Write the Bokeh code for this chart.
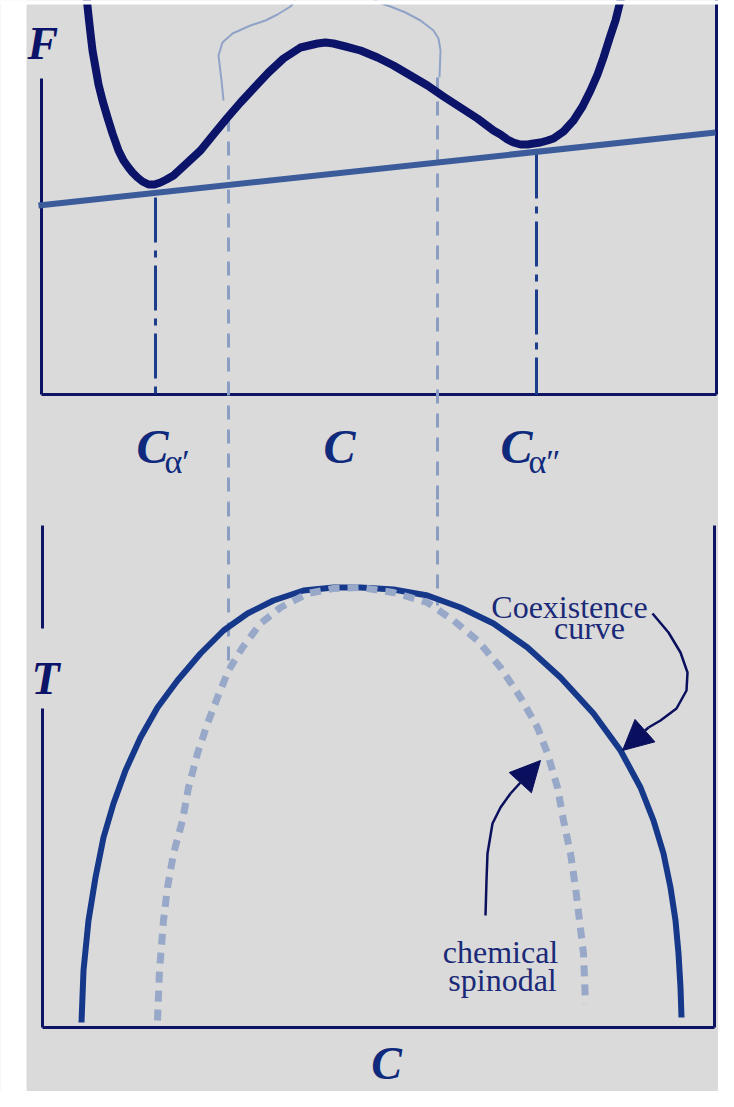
from bokeh.plotting import figure
from bokeh.models import Range1d, Arrow, NormalHead
from bokeh.core.properties import value
from bokeh.embed import file_html
from bokeh.resources import INLINE

# ---------------- data (composition c, free energy F, temperature T; arbitrary units) ----
# free-energy curve F(c)
f_c = [44, 46, 48, 50, 53, 56, 60, 65, 70, 76, 81, 86, 90, 95, 100, 106, 112, 118, 124,
       131, 144, 158, 171, 185, 198, 211, 226, 241, 258, 275, 283, 291, 303, 318, 335,
       351, 368, 385, 401, 418, 435, 451, 458, 465, 471, 478, 485, 491, 498, 505, 511,
       521, 531, 540, 548, 555, 561, 567, 573, 579]
f_val = [398, 379, 361, 344, 327, 310, 294, 277, 261, 244, 234, 227, 222, 217, 213, 210,
         210, 212, 215, 219, 231, 244, 260, 277, 292, 306, 322, 336, 347, 351, 352, 351,
         348, 344, 337, 329, 319, 309, 298, 287, 276, 264, 260, 255, 252, 250, 250, 251,
         252, 254, 256, 263, 274, 288, 304, 320, 337, 356, 374, 398]
# common tangent
tangent_c = [-4, 673]
tangent_f = [189, 262]
# tangent points C_alpha' and C_alpha''
c_alpha = [113, 494]
f_alpha = [197, 241]
# spinodal (inflection) compositions
spin_c = [186, 395]
spin_f_top = [277, 317]
spin_t_end = [357, 422]
# second-derivative sketch above the F curve
bracket_left_c = [181, 179, 176, 180, 190, 208, 223, 235, 248, 253]
bracket_left_f = [294, 314, 339, 352, 361, 369, 374, 380, 388, 394]
bracket_right_c = [397, 398, 396, 391, 378, 363, 348, 336, 330]
bracket_right_f = [317, 344, 356, 364, 374, 382, 388, 392, 396]
# phase diagram: coexistence curve and chemical spinodal
coex_c = [39, 41, 46, 53, 61, 71, 83, 98, 115, 135, 158, 181, 205, 231, 261, 291, 318,
          351, 385, 418, 451, 485, 518, 551, 578, 598, 611, 621, 628, 633, 636, 638, 639]
coex_t = [5, 57, 107, 150, 190, 224, 257, 290, 320, 347, 374, 397, 414, 427, 437, 440,
          440, 438, 432, 420, 404, 380, 350, 314, 277, 240, 207, 174, 140, 107, 74, 40, 10]
spinod_c = [115, 117, 121, 125, 131, 140, 146, 155, 165, 175, 186, 200, 218, 238, 265,
            291, 318, 351, 385, 411, 435, 458, 478, 495, 505, 515, 521, 528, 533, 537,
            541, 543]
spinod_t = [7, 57, 107, 140, 174, 207, 240, 274, 304, 330, 357, 380, 404, 420, 434, 439,
            440, 435, 425, 407, 387, 360, 330, 300, 274, 240, 207, 174, 140, 107, 74, 24]
# labels
label_c = [110, 297, 474]
label_main = ["C", "C", "C"]
label_sub = ["α′", "", "α″"]
# annotation arrows
arrow1_c = [610, 626, 638, 645, 644, 634, 618, 606]
arrow1_t = [414, 395, 375, 355, 337, 319, 307, 300]
arrow1_tip = [580, 277]
arrow2_c = [443, 444, 445, 450, 458, 468]
arrow2_t = [112, 147, 174, 204, 220, 234]
arrow2_tip = [498, 267]

NAVY = "#0b1468"
AXIS = "#0d1466"
LABEL = "#0f2a7c"
BG = "#dadada"
LIGHT = "#8a9ec4"
SERIF = value("Liberation Serif")
TXT = "#1b2a78"
ARW = "#0a0f5e"

# one canvas: default y range = free energy F (upper panel), extra range "T" (lower panel)
p = figure(width=718, height=1091, x_range=Range1d(-42, 676), y_range=Range1d(-697, 394),
           output_backend="svg", toolbar_location=None,
           x_axis_location=None, y_axis_location=None, min_border=0)
p.extra_y_ranges = {"T": Range1d(-64, 1027)}
p.grid.visible = False
p.outline_line_color = None
p.background_fill_color = BG
p.border_fill_color = BG
p.quad(left=[-200], right=[-16], bottom=[-2000], top=[2000],
       fill_color="white", line_color=None)

# ---------------- upper panel: free energy ----------------
p.line([-1, -1], [316, 0], line_color=AXIS, line_width=3)
p.line([-1, 674], [0, 0], line_color=AXIS, line_width=3)
p.line([674, 674], [0, 400], line_color=AXIS, line_width=3)

# spinodal guide lines (dashed), running down into the phase diagram
for c, ft, te in zip(spin_c, spin_f_top, spin_t_end):
    p.line([c, c], [ft, -108], line_color=LIGHT, line_width=3, line_dash="14 10")
    p.line([c, c], [525, te], line_color=LIGHT, line_width=3, line_dash="14 10",
           y_range_name="T")

# thin sketch curve
p.line(bracket_left_c, bracket_left_f, line_color="#90a3c7", line_width=2)
p.line(bracket_right_c, bracket_right_f, line_color="#90a3c7", line_width=2)

# tangent-point drop lines
for c, fa in zip(c_alpha, f_alpha):
    p.line([c, c], [fa, 0], line_color="#1c3d8a", line_width=3, line_dash="45 8 7 8")

# common tangent
p.line(tangent_c, tangent_f, line_color="#3b5b9b", line_width=6)

# free energy curve
p.line(f_c, f_val, line_color=NAVY, line_width=8, line_join="round", line_cap="round")

# white strip at the very top
p.quad(left=[-200], right=[900], bottom=[390], top=[500], fill_color="white",
       line_color=None)

p.text(x=[-15], y=[351], text=["F"], text_font=SERIF, text_font_style="bold italic",
       text_font_size="46px", text_color=NAVY, text_align="left", text_baseline="alphabetic")
p.text(x=label_c, y=[-52] * 3, text=label_main, text_font=SERIF,
       text_font_style="bold italic", text_font_size="48px", text_color=LABEL,
       text_align="center", text_baseline="alphabetic")
p.text(x=[c + 12 for c in label_c], y=[-67] * 3, text=label_sub, text_font=SERIF,
       text_font_size="34px", text_color=LABEL, text_align="left",
       text_baseline="alphabetic")

# ---------------- lower panel: phase diagram ----------------
p.line([0, 0], [502, 399], line_color=AXIS, line_width=3, y_range_name="T")
p.line([0, 0], [319, 0], line_color=AXIS, line_width=3, y_range_name="T")
p.line([0, 672], [0, 0], line_color=AXIS, line_width=3, y_range_name="T")
p.line([672, 672], [0, 502], line_color=AXIS, line_width=3, y_range_name="T")

p.line(coex_c, coex_t, line_color="#15388a", line_width=6, line_join="round",
       y_range_name="T")
p.line(spinod_c, spinod_t, line_color="#98a8c8", line_width=7, line_dash="11 8",
       line_join="round", y_range_name="T")

p.line(arrow1_c, arrow1_t, line_color=ARW, line_width=2.5, line_join="round",
       y_range_name="T")
p.add_layout(Arrow(end=NormalHead(size=30, fill_color=ARW, line_color=ARW),
                   x_start=arrow1_c[-1], y_start=arrow1_t[-1],
                   x_end=arrow1_tip[0], y_end=arrow1_tip[1],
                   line_color=ARW, line_width=2.5, y_range_name="T"))
p.line(arrow2_c, arrow2_t, line_color=ARW, line_width=2.5, line_join="round",
       y_range_name="T")
p.add_layout(Arrow(end=NormalHead(size=30, fill_color=ARW, line_color=ARW),
                   x_start=arrow2_c[-1], y_start=arrow2_t[-1],
                   x_end=arrow2_tip[0], y_end=arrow2_tip[1],
                   line_color=ARW, line_width=2.5, y_range_name="T"))

p.text(x=[527, 547, 458, 460], y=[421, 400, 76, 48],
       text=["Coexistence", "curve", "chemical", "spinodal"], text_font=SERIF,
       text_font_size="32px", text_color=TXT, text_align="center",
       text_baseline="alphabetic", y_range_name="T")

p.text(x=[3], y=[349], text=["T"], text_font=SERIF, text_font_style="bold italic",
       text_font_size="46px", text_color=NAVY, text_align="center",
       text_baseline="alphabetic", y_range_name="T")
p.text(x=[344], y=[-36], text=["C"], text_font=SERIF, text_font_style="bold italic",
       text_font_size="46px", text_color=LABEL, text_align="center",
       text_baseline="alphabetic", y_range_name="T")

open("out.html", "w").write(file_html(p, INLINE))
